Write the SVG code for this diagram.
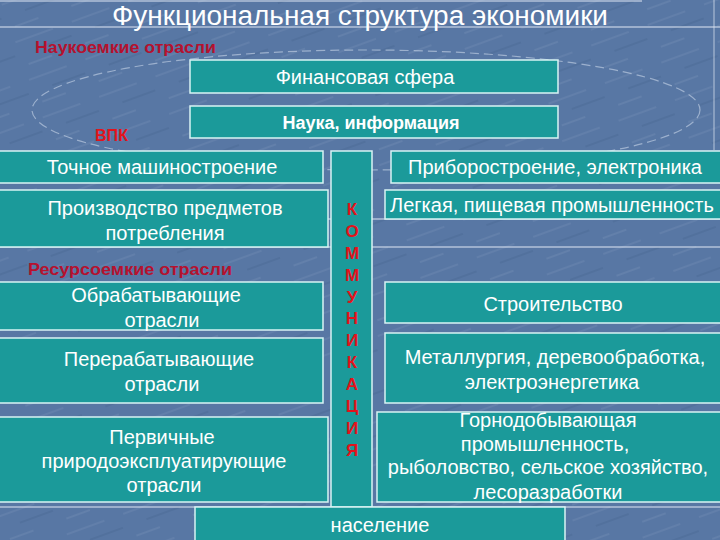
<svg xmlns="http://www.w3.org/2000/svg" width="720" height="540" viewBox="0 0 720 540">
<defs>
<pattern id="tex" width="60" height="40" patternUnits="userSpaceOnUse" patternTransform="rotate(-20)">
<line x1="0" y1="5" x2="40" y2="5" stroke="#8fa6c8" stroke-width="1" opacity="0.35"/>
<line x1="20" y1="18" x2="55" y2="18" stroke="#3f5d8a" stroke-width="1.5" opacity="0.35"/>
<line x1="5" y1="30" x2="30" y2="30" stroke="#9bb0cf" stroke-width="1" opacity="0.3"/>
</pattern>
<style>
.box{fill:#1b9a9a;stroke:#d8f4f4;stroke-width:1.5}
.t{font-family:"Liberation Sans",Arial,sans-serif;font-size:20px;fill:#ffffff;text-anchor:middle}
.lab{font-family:"Liberation Sans",Arial,sans-serif;font-weight:bold;font-size:16px;fill:#b5112e}
.let{font-family:"Liberation Sans",Arial,sans-serif;font-weight:bold;font-size:17px;fill:#e3131b;text-anchor:middle}
.ln{stroke:#dfe8f4;stroke-width:1.2}
</style>
</defs>
<rect x="0" y="0" width="720" height="540" fill="#5877a4"/>
<rect x="0" y="0" width="720" height="540" fill="url(#tex)"/>
<g id="frame">
<line class="ln" x1="0" y1="1" x2="642" y2="1"/>
<line class="ln" x1="0" y1="27" x2="720" y2="27"/>
<line class="ln" x1="714" y1="0" x2="714" y2="150" opacity="0.6"/>
<ellipse cx="366" cy="110" rx="334" ry="60" fill="none" stroke="#c9d7ea" stroke-width="1.2" stroke-dasharray="9 5" opacity="0.6"/>
</g>
<text x="360" y="25" font-family="'Liberation Sans Narrow','Liberation Sans',sans-serif" font-size="27" fill="#ffffff" text-anchor="middle" textLength="496" lengthAdjust="spacingAndGlyphs">Функциональная структура экономики</text>
<text class="lab" x="35" y="53" textLength="181" lengthAdjust="spacingAndGlyphs">Наукоемкие отрасли</text>
<text class="lab" x="95" y="141" style="fill:#e3131b;font-size:17px" textLength="33" lengthAdjust="spacingAndGlyphs">ВПК</text>
<text class="lab" x="28" y="275" textLength="204" lengthAdjust="spacingAndGlyphs">Ресурсоемкие отрасли</text>
<g id="connectors">
<line class="ln" x1="0" y1="219" x2="720" y2="219"/>
<line class="ln" x1="0" y1="247" x2="720" y2="247"/>
<line class="ln" x1="0" y1="507" x2="720" y2="507"/>
</g>
<g id="fin"><rect class="box" x="190" y="60" width="368" height="33"/><text class="t" x="365" y="84">Финансовая сфера</text></g>
<g id="nauka"><rect class="box" x="190" y="106" width="368" height="32"/><text class="t" x="371" y="129" font-weight="bold" style="font-size:18px">Наука, информация</text></g>
<g id="tochnoe"><rect class="box" x="-2" y="151" width="325" height="32"/><text class="t" x="162" y="174">Точное машиностроение</text></g>
<g id="proizv"><rect class="box" x="-2" y="190" width="330" height="57"/><text class="t" x="165" y="215">Производство предметов</text><text class="t" x="165" y="240">потребления</text></g>
<g id="obrab"><rect class="box" x="-2" y="282" width="325" height="48"/><text class="t" x="156" y="302">Обрабатывающие</text><text class="t" x="162" y="327">отрасли</text></g>
<g id="pererab"><rect class="box" x="-2" y="338" width="325" height="65"/><text class="t" x="159" y="366">Перерабатывающие</text><text class="t" x="162" y="391">отрасли</text></g>
<g id="pervich"><rect class="box" x="-2" y="417" width="330" height="85"/><text class="t" x="162" y="444">Первичные</text><text class="t" x="164" y="468">природоэксплуатирующие</text><text class="t" x="164" y="492">отрасли</text></g>
<g id="komm"><rect class="box" x="331" y="151" width="41" height="356"/>
<text class="let" x="352" y="215">К</text><text class="let" x="352" y="237">О</text><text class="let" x="352" y="259">М</text><text class="let" x="352" y="281">М</text><text class="let" x="352" y="303">У</text><text class="let" x="352" y="324">Н</text><text class="let" x="352" y="346">И</text><text class="let" x="352" y="368">К</text><text class="let" x="352" y="390">А</text><text class="let" x="352" y="412">Ц</text><text class="let" x="352" y="434">И</text><text class="let" x="352" y="456">Я</text></g>
<g id="pribor"><rect class="box" x="391" y="151" width="331" height="32"/><text class="t" x="555" y="174">Приборостроение, электроника</text></g>
<g id="legk"><rect class="box" x="385" y="190" width="337" height="29"/><text class="t" x="552" y="212">Легкая, пищевая промышленность</text></g>
<g id="stroit"><rect class="box" x="385" y="282" width="337" height="41"/><text class="t" x="553" y="311">Строительство</text></g>
<g id="metal"><rect class="box" x="385" y="333" width="337" height="70"/><text class="t" x="555" y="364">Металлургия, деревообработка,</text><text class="t" x="552" y="389">электроэнергетика</text></g>
<g id="gorno"><rect class="box" x="377" y="412" width="345" height="90"/><text class="t" x="548" y="427">Горнодобывающая</text><text class="t" x="545" y="451">промышленность,</text><text class="t" x="548" y="474">рыболовство, сельское хозяйство,</text><text class="t" x="548" y="499">лесоразработки</text></g>
<g id="naselenie"><rect class="box" x="195" y="507" width="370" height="36"/><text class="t" x="380" y="532">население</text></g>
</svg>
